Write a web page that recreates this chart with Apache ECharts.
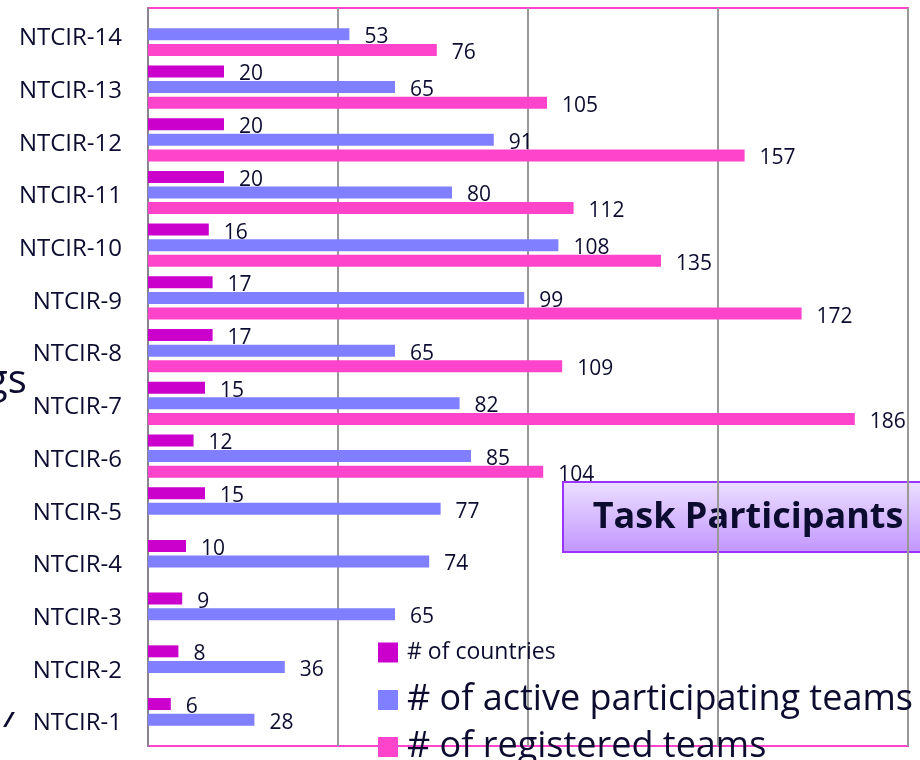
<!DOCTYPE html>
<html lang="en">
<head>
    <meta charset="UTF-8">
    <title>NTCIR Task Participants</title>
    <script src="https://cdn.jsdelivr.net/npm/echarts@6/dist/echarts.min.js"></script>
    <style>
        html, body { margin: 0; padding: 0; background: #fff; }
        #main { width: 920px; height: 760px; }
    </style>
</head>
<body>
<div id="main"></div>
<script>
    // bottom to top on the y axis
    var rounds = ['NTCIR-1', 'NTCIR-2', 'NTCIR-3', 'NTCIR-4', 'NTCIR-5', 'NTCIR-6', 'NTCIR-7',
        'NTCIR-8', 'NTCIR-9', 'NTCIR-10', 'NTCIR-11', 'NTCIR-12', 'NTCIR-13', 'NTCIR-14'];
    var countries = [6, 8, 9, 10, 15, 12, 15, 17, 17, 16, 20, 20, 20, null];
    var activeTeams = [28, 36, 65, 74, 77, 85, 82, 65, 99, 108, 80, 91, 65, 53];
    var registeredTeams = [null, null, null, null, null, 104, 186, 109, 172, 135, 112, 157, 105, 76];
    var xTicks = [0, 50, 100, 150, 200];

    var ink = '#0c0c30';
    var font = '"Open Sans", sans-serif';

    var chart = echarts.init(document.getElementById('main'));

    function barLabel() {
        return {
            show: true,
            position: 'right',
            distance: 15,
            offset: [0, 3],
            color: ink,
            fontFamily: font,
            fontSize: 21
        };
    }

    function oneLegend(name, top, size, lh) {
        return {
            data: [{name: name, textStyle: {fontSize: size, lineHeight: lh}}],
            orient: 'vertical',
            left: 378,
            top: top,
            padding: 0,
            icon: 'rect',
            itemWidth: 20,
            itemHeight: 20,
            textStyle: {color: ink, fontFamily: font, padding: [0, 0, 0, 4]}
        };
    }

    var option = {
        animation: false,
        grid: {
            left: 148,
            right: 12,
            top: 8,
            bottom: 14,
            show: true,
            borderColor: '#ff44cc',
            borderWidth: 2,
            containLabel: false
        },
        legend: [
            oneLegend('# of countries', 641, 23, 22),
            oneLegend('# of active participating teams', 682, 36, 32),
            oneLegend('# of registered teams', 729, 36, 32)
        ],
        xAxis: {
            type: 'value',
            min: xTicks[0],
            max: xTicks[xTicks.length - 1],
            interval: xTicks[1] - xTicks[0],
            axisLabel: {show: false},
            axisTick: {show: false},
            axisLine: {show: false},
            splitLine: {lineStyle: {color: '#999999', width: 2}}
        },
        yAxis: {
            type: 'category',
            data: rounds,
            axisTick: {show: false},
            axisLine: {lineStyle: {color: '#8a8490', width: 2}},
            axisLabel: {
                margin: 26,
                formatter: function (v) { return '{v|' + v + '}'; },
                rich: {
                    v: {
                        color: ink,
                        fontFamily: font,
                        fontSize: 24,
                        padding: [8, 0, 0, 0]
                    }
                }
            }
        },
        graphic: [
            {
                type: 'rect',
                z: -10,
                shape: {x: 563, y: 482, width: 370, height: 70},
                style: {
                    fill: new echarts.graphic.LinearGradient(0, 0, 0, 1, [
                        {offset: 0, color: '#ece0ff'},
                        {offset: 1, color: '#c295ff'}
                    ]),
                    stroke: '#9a33ff',
                    lineWidth: 2
                }
            },
            {
                type: 'text',
                z: -9,
                x: 748,
                y: 518,
                style: {
                    text: 'Task Participants',
                    fill: ink,
                    font: 'bold 36px "Open Sans", sans-serif',
                    textAlign: 'center',
                    textVerticalAlign: 'middle'
                }
            },
            {
                type: 'text',
                x: -14,
                y: 382,
                style: {
                    text: 'gs',
                    fill: ink,
                    font: '40px "Open Sans", sans-serif',
                    textVerticalAlign: 'middle'
                }
            },
            {
                type: 'text',
                x: 4,
                y: 721,
                style: {
                    text: '/',
                    fill: ink,
                    font: 'bold italic 22px "Open Sans", sans-serif',
                    textVerticalAlign: 'middle'
                }
            }
        ],
        series: [
            {
                name: '# of countries',
                type: 'bar',
                data: countries,
                itemStyle: {color: '#cc00cc'},
                barWidth: 12,
                barGap: '30%',
                barCategoryGap: '18%',
                label: barLabel()
            },
            {
                name: '# of active participating teams',
                type: 'bar',
                data: activeTeams,
                itemStyle: {color: '#7f7fff'},
                barWidth: 12,
                barGap: '30%',
                label: barLabel()
            },
            {
                name: '# of registered teams',
                type: 'bar',
                data: registeredTeams,
                itemStyle: {color: '#ff44cc'},
                barWidth: 12,
                barGap: '30%',
                label: barLabel()
            }
        ]
    };
    chart.setOption(option);
</script>
</body>
</html>
